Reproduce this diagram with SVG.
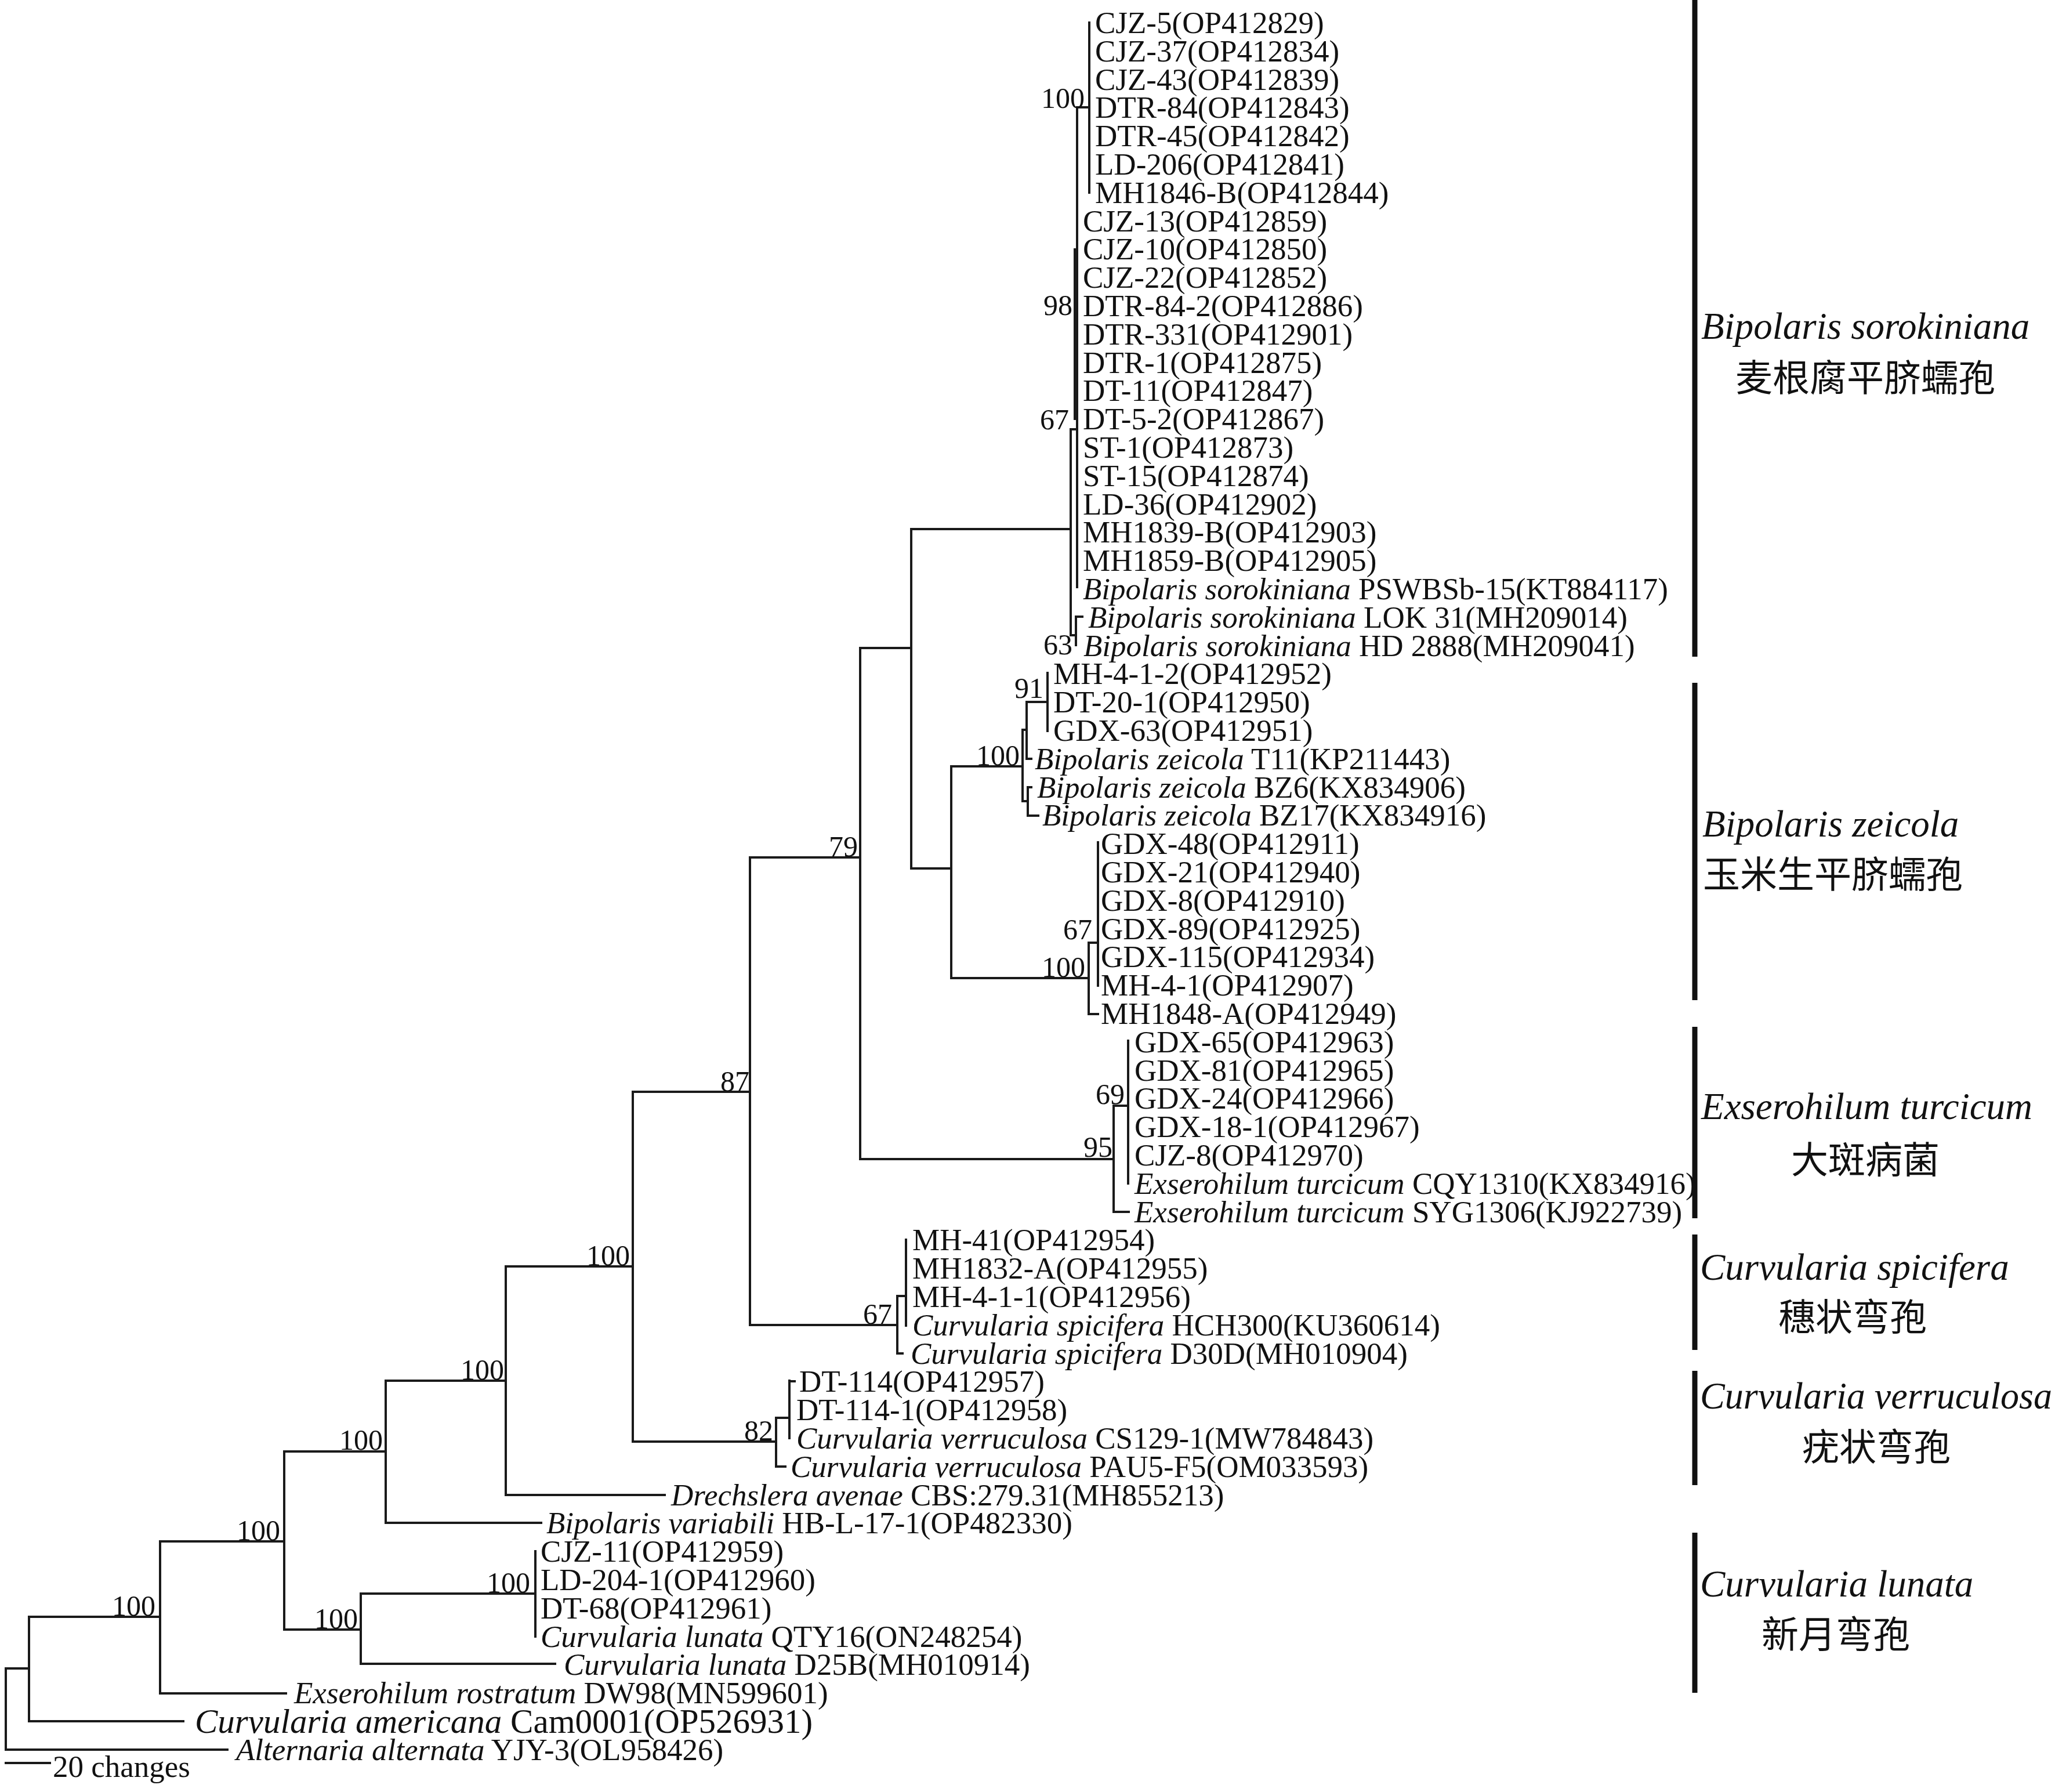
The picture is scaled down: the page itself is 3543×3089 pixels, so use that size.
<svg xmlns="http://www.w3.org/2000/svg" width="3543" height="3089" viewBox="0 0 3543 3089">
<style>
.br{stroke:#1a1a1a;stroke-width:4;fill:none;stroke-linecap:square}
.bar{stroke:#111;stroke-width:9;fill:none}
text{font-family:"Liberation Serif","Times New Roman",serif;fill:#111}
.lf{font-size:53px}
.i{font-style:italic}
.bs{font-size:50px;text-anchor:end}
.cl{font-size:65px;font-style:italic}
.cn{font-family:"Noto Sans CJK SC","Noto Sans CJK TC",sans-serif;font-size:64px;text-anchor:middle}
</style>
<rect width="3543" height="3089" fill="#fff"/>
<g id="connectors">
<path class="br" d="M10 2876V3016M10 2876H50M10 3016H392
M50 2787V2967M50 2967H316M50 2787H276
M276 2657V2919M276 2919H493M276 2657H490
M490 2502V2809M490 2809H622M490 2502H665
M622 2747V2868M622 2868H957M622 2747H923
M923 2674V2821
M665 2380V2625M665 2625H933M665 2380H872
M872 2183V2577M872 2577H1146M872 2183H1091
M1091 1882V2485M1091 2485H1338M1091 1882H1293
M1338 2444V2528M1338 2444H1361M1338 2528H1354M1361 2380V2479M1361 2381H1370
M1293 1478V2284M1293 2284H1547M1293 1478H1483
M1547 2234V2333M1547 2234H1562M1547 2333H1556M1562 2137V2285
M1483 1117V1998M1483 1998H1920M1483 1117H1571
M1920 1906V2089M1920 1906H1945M1920 2089H1946M1945 1794V2040
M1571 912V1497M1571 912H1846M1571 1497H1640
M1640 1321V1686M1640 1321H1763M1640 1686H1877
M1763 1258V1381M1763 1258H1770M1763 1381H1772
M1770 1210V1308M1770 1210H1806M1770 1308H1778
M1806 1160V1260
M1772 1357V1406M1772 1357H1778M1772 1406H1790
M1877 1625V1748M1877 1625H1893M1877 1748H1893
M1893 1452V1699
M1846 740V1095M1846 740H1857M1846 1095H1855
M1855 1063V1112M1855 1063H1866
M1857 185V1012M1853 430V722
M1857 185H1878M1878 39V332"/>
<path class="br" d="M10 3039H86"/>
</g>
<g id="support">
<text class="bs" x="1870" y="186">100</text>
<text class="bs" x="1849" y="543">98</text>
<text class="bs" x="1843" y="740">67</text>
<text class="bs" x="1849" y="1128">63</text>
<text class="bs" x="1799" y="1203">91</text>
<text class="bs" x="1758" y="1319">100</text>
<text class="bs" x="1883" y="1619">67</text>
<text class="bs" x="1871" y="1684">100</text>
<text class="bs" x="1939" y="1903">69</text>
<text class="bs" x="1918" y="1994">95</text>
<text class="bs" x="1479" y="1476">79</text>
<text class="bs" x="1292" y="1881">87</text>
<text class="bs" x="1086" y="2181">100</text>
<text class="bs" x="1538" y="2282">67</text>
<text class="bs" x="1333" y="2483">82</text>
<text class="bs" x="869" y="2378">100</text>
<text class="bs" x="660" y="2499">100</text>
<text class="bs" x="483" y="2655">100</text>
<text class="bs" x="268" y="2785">100</text>
<text class="bs" x="617" y="2807">100</text>
<text class="bs" x="914" y="2745">100</text>
</g>
<g id="leaves" class="lf">
<g id="t01"><text x="1888" y="57">CJZ-5(OP412829)</text></g>
<g id="t02"><text x="1888" y="105.8">CJZ-37(OP412834)</text></g>
<g id="t03"><text x="1888" y="154.6">CJZ-43(OP412839)</text></g>
<g id="t04"><text x="1888" y="203.4">DTR-84(OP412843)</text></g>
<g id="t05"><text x="1888" y="252.2">DTR-45(OP412842)</text></g>
<g id="t06"><text x="1888" y="301">LD-206(OP412841)</text></g>
<g id="t07"><text x="1888" y="349.8">MH1846-B(OP412844)</text></g>
<g id="t08"><text x="1867" y="398.6">CJZ-13(OP412859)</text></g>
<g id="t09"><text x="1867" y="447.4">CJZ-10(OP412850)</text></g>
<g id="t10"><text x="1867" y="496.2">CJZ-22(OP412852)</text></g>
<g id="t11"><text x="1867" y="545">DTR-84-2(OP412886)</text></g>
<g id="t12"><text x="1867" y="593.8">DTR-331(OP412901)</text></g>
<g id="t13"><text x="1867" y="642.6">DTR-1(OP412875)</text></g>
<g id="t14"><text x="1867" y="691.4">DT-11(OP412847)</text></g>
<g id="t15"><text x="1867" y="740.2">DT-5-2(OP412867)</text></g>
<g id="t16"><text x="1867" y="789">ST-1(OP412873)</text></g>
<g id="t17"><text x="1867" y="837.8">ST-15(OP412874)</text></g>
<g id="t18"><text x="1867" y="886.6">LD-36(OP412902)</text></g>
<g id="t19"><text x="1867" y="935.4">MH1839-B(OP412903)</text></g>
<g id="t20"><text x="1867" y="984.2">MH1859-B(OP412905)</text></g>
<g id="t21"><text x="1867" y="1033"><tspan class="i">Bipolaris sorokiniana</tspan> PSWBSb-15(KT884117)</text></g>
<g id="t22"><text x="1876" y="1081.8"><tspan class="i">Bipolaris sorokiniana</tspan> LOK 31(MH209014)</text></g>
<g id="t23"><text x="1868" y="1130.6"><tspan class="i">Bipolaris sorokiniana</tspan> HD 2888(MH209041)</text></g>
<g id="t24"><text x="1816" y="1179.4">MH-4-1-2(OP412952)</text></g>
<g id="t25"><text x="1816" y="1228.2">DT-20-1(OP412950)</text></g>
<g id="t26"><text x="1816" y="1277">GDX-63(OP412951)</text></g>
<g id="t27"><text x="1784" y="1325.8"><tspan class="i">Bipolaris zeicola</tspan> T11(KP211443)</text></g>
<g id="t28"><text x="1788" y="1374.6"><tspan class="i">Bipolaris zeicola</tspan> BZ6(KX834906)</text></g>
<g id="t29"><text x="1797" y="1423.4"><tspan class="i">Bipolaris zeicola</tspan> BZ17(KX834916)</text></g>
<g id="t30"><text x="1898" y="1472.2">GDX-48(OP412911)</text></g>
<g id="t31"><text x="1898" y="1521">GDX-21(OP412940)</text></g>
<g id="t32"><text x="1898" y="1569.8">GDX-8(OP412910)</text></g>
<g id="t33"><text x="1898" y="1618.6">GDX-89(OP412925)</text></g>
<g id="t34"><text x="1898" y="1667.4">GDX-115(OP412934)</text></g>
<g id="t35"><text x="1898" y="1716.2">MH-4-1(OP412907)</text></g>
<g id="t36"><text x="1898" y="1765">MH1848-A(OP412949)</text></g>
<g id="t37"><text x="1956" y="1813.8">GDX-65(OP412963)</text></g>
<g id="t38"><text x="1956" y="1862.6">GDX-81(OP412965)</text></g>
<g id="t39"><text x="1956" y="1911.4">GDX-24(OP412966)</text></g>
<g id="t40"><text x="1956" y="1960.2">GDX-18-1(OP412967)</text></g>
<g id="t41"><text x="1956" y="2009">CJZ-8(OP412970)</text></g>
<g id="t42"><text x="1956" y="2057.8"><tspan class="i">Exserohilum turcicum</tspan> CQY1310(KX834916)</text></g>
<g id="t43"><text x="1956" y="2106.6"><tspan class="i">Exserohilum turcicum</tspan> SYG1306(KJ922739)</text></g>
<g id="t44"><text x="1573" y="2155.4">MH-41(OP412954)</text></g>
<g id="t45"><text x="1573" y="2204.2">MH1832-A(OP412955)</text></g>
<g id="t46"><text x="1573" y="2253">MH-4-1-1(OP412956)</text></g>
<g id="t47"><text x="1573" y="2301.8"><tspan class="i">Curvularia spicifera</tspan> HCH300(KU360614)</text></g>
<g id="t48"><text x="1570" y="2350.6"><tspan class="i">Curvularia spicifera</tspan> D30D(MH010904)</text></g>
<g id="t49"><text x="1378" y="2399.4">DT-114(OP412957)</text></g>
<g id="t50"><text x="1373" y="2448.2">DT-114-1(OP412958)</text></g>
<g id="t51"><text x="1373" y="2497"><tspan class="i">Curvularia verruculosa</tspan> CS129-1(MW784843)</text></g>
<g id="t52"><text x="1363" y="2545.8"><tspan class="i">Curvularia verruculosa</tspan> PAU5-F5(OM033593)</text></g>
<g id="t53"><text x="1157" y="2594.6"><tspan class="i">Drechslera avenae</tspan> CBS:279.31(MH855213)</text></g>
<g id="t54"><text x="942" y="2643.4"><tspan class="i">Bipolaris variabili</tspan> HB-L-17-1(OP482330)</text></g>
<g id="t55"><text x="932" y="2692.2">CJZ-11(OP412959)</text></g>
<g id="t56"><text x="932" y="2741">LD-204-1(OP412960)</text></g>
<g id="t57"><text x="932" y="2789.8">DT-68(OP412961)</text></g>
<g id="t58"><text x="932" y="2838.6"><tspan class="i">Curvularia lunata</tspan> QTY16(ON248254)</text></g>
<g id="t59"><text x="972" y="2887.4"><tspan class="i">Curvularia lunata</tspan> D25B(MH010914)</text></g>
<g id="t60"><text x="507" y="2936.2"><tspan class="i">Exserohilum rostratum</tspan> DW98(MN599601)</text></g>
<g id="t61"><text x="336" y="2987" style="font-size:59px"><tspan class="i">Curvularia americana</tspan> Cam0001(OP526931)</text></g>
<g id="t62"><text x="407" y="3033.8"><tspan class="i">Alternaria alternata</tspan> YJY-3(OL958426)</text></g>
</g>
<g id="scale"><text class="lf" x="91" y="3063">20 changes</text></g>
<g id="clades">
<g id="c-sorokiniana"><path class="bar" d="M2922 0V1132"/><text class="cl" x="2933" y="584">Bipolaris sorokiniana</text><text class="cn" x="3216" y="674">麦根腐平脐蠕孢</text></g>
<g id="c-zeicola"><path class="bar" d="M2922 1177V1724"/><text class="cl" x="2935" y="1442">Bipolaris zeicola</text><text class="cn" x="3160" y="1530">玉米生平脐蠕孢</text></g>
<g id="c-turcicum"><path class="bar" d="M2922 1770V2100"/><text class="cl" x="2933" y="1929">Exserohilum turcicum</text><text class="cn" x="3216" y="2022">大斑病菌</text></g>
<g id="c-spicifera"><path class="bar" d="M2922 2128V2327"/><text class="cl" x="2931" y="2206">Curvularia spicifera</text><text class="cn" x="3194" y="2293">穗状弯孢</text></g>
<g id="c-verruculosa"><path class="bar" d="M2922 2363V2560"/><text class="cl" x="2931" y="2428" textLength="607" lengthAdjust="spacingAndGlyphs">Curvularia verruculosa</text><text class="cn" x="3235" y="2517">疣状弯孢</text></g>
<g id="c-lunata"><path class="bar" d="M2922 2642V2918"/><text class="cl" x="2931" y="2752">Curvularia lunata</text><text class="cn" x="3165" y="2840">新月弯孢</text></g>
</g>
</svg>
